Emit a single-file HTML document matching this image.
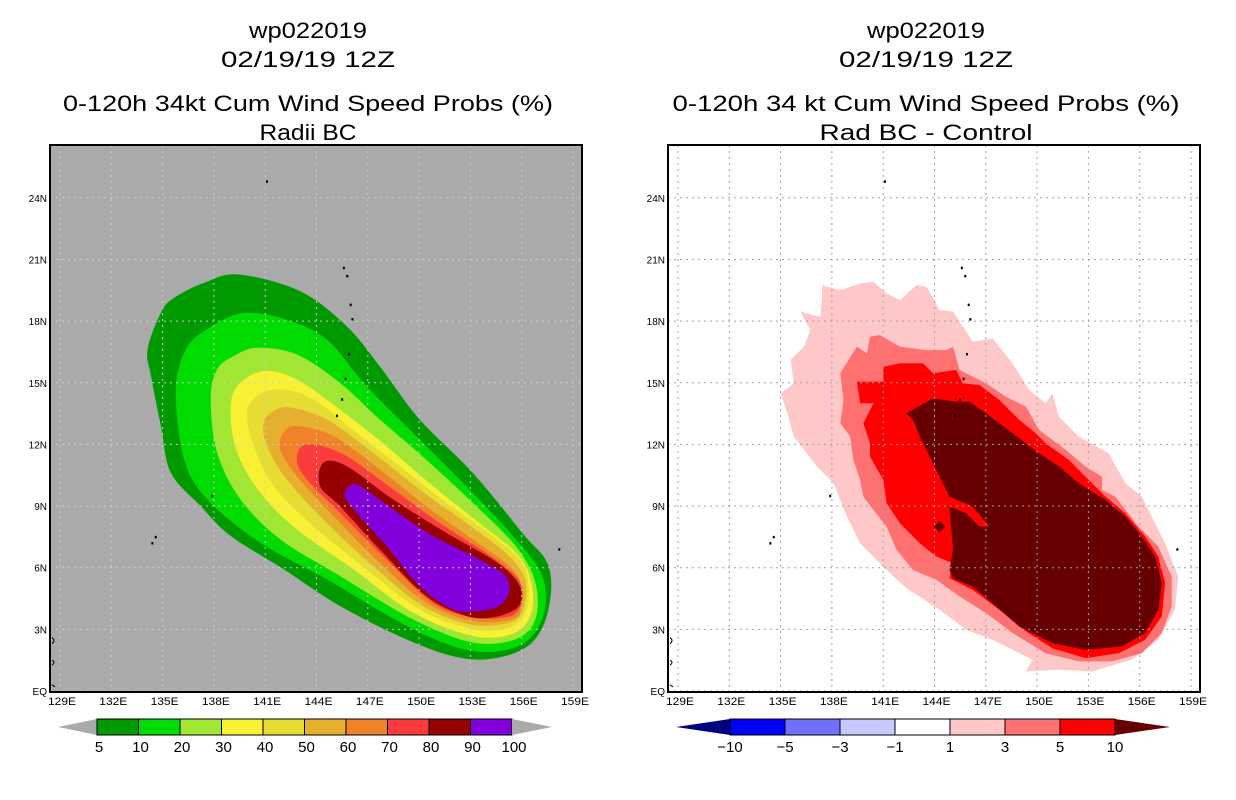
<!DOCTYPE html>
<html><head><meta charset="utf-8"><style>
body{margin:0;background:#fff;}
svg{display:block;font-family:"Liberation Sans",sans-serif;}
</style></head><body>
<svg id="c" width="1236" height="800" viewBox="0 0 1236 800"></svg>
<script>
const lonTicks=[129,132,135,138,141,144,147,150,153,156,159];
const latTicks=[0,3,6,9,12,15,18,21,24];
const latLabels=["EQ","3N","6N","9N","12N","15N","18N","21N","24N"];
const leftLevels=["5","10","20","30","40","50","60","70","80","90","100"];
const leftColors=["#009900","#00dc00","#a0e632","#f8f032","#e6dc32","#e6af2d","#f08228","#fa3c3c","#960000","#8200dc"];
const rightLevels=["-10","-5","-3","-1","1","3","5","10"];
const rightColors=["#0000ff","#7070ff","#c8c8ff","#ffffff","#ffc8c8","#ff7070","#ff0000"];
// left contours (lon,lat pairs)
const c5=[[139.45,20.27],[143.04,19.46],[145.75,17.76],[147.69,15.81],[150.02,13.22],[153.12,10.63],[156.02,7.71],[157.57,6.09],[157.57,3.98],[156.6,2.36],[154.67,1.63],[152.34,1.63],[149.24,2.52],[145.36,4.14],[142.07,5.93],[138.97,7.55],[137.22,9.0],[135.48,10.63],[134.9,12.89],[134.32,15.33],[134.12,16.62],[134.9,18.41],[135.67,19.13],[137.42,19.86]];
const c10=[[140.13,18.41],[144.2,17.35],[146.91,14.84],[150.02,12.25],[153.12,9.65],[155.83,7.22],[157.28,5.44],[157.19,3.49],[155.83,2.2],[153.12,1.95],[149.63,3.01],[144.59,5.44],[140.71,7.22],[137.61,9.33],[136.26,11.27],[135.77,14.52],[136.26,16.46],[137.42,17.51]];
const c20=[[140.52,16.7],[142.84,16.38],[145.36,15.0],[147.69,13.22],[150.4,11.27],[153.12,9.17],[155.64,7.06],[156.8,5.28],[156.8,3.49],[155.64,2.52],[153.12,2.36],[149.63,3.49],[145.36,5.6],[141.88,7.38],[139.55,9.33],[138.19,11.6],[137.81,14.19],[138.19,15.65],[139.16,16.3]];
const c30=[[140.91,15.57],[142.84,15.16],[145.36,13.71],[148.08,11.92],[150.79,9.98],[153.5,8.19],[155.83,6.57],[156.6,5.12],[156.51,3.66],[155.44,2.77],[153.12,2.68],[149.63,3.82],[146.14,5.93],[142.84,7.87],[140.71,9.65],[139.36,11.6],[138.97,13.54],[139.36,14.84]];
const c40=[[141.88,14.68],[143.81,14.19],[146.33,12.57],[148.85,10.95],[151.57,9.17],[154.28,7.55],[156.02,6.25],[156.41,4.95],[156.22,3.82],[155.25,3.09],[153.12,3.01],[150.02,3.98],[146.91,5.93],[143.81,8.03],[141.49,9.98],[140.33,11.92],[139.94,13.54],[140.52,14.35]];
const c50=[[142.46,13.79],[144.59,13.22],[147.3,11.6],[150.02,9.82],[152.73,8.19],[155.05,6.74],[156.12,5.6],[156.22,4.47],[155.83,3.58],[154.86,3.25],[152.92,3.25],[150.21,4.14],[147.3,6.09],[144.59,8.19],[142.26,10.3],[141.1,11.92],[140.91,13.06],[141.49,13.62]];
const c60=[[142.84,12.89],[144.98,12.41],[147.69,10.79],[150.4,9.0],[153.12,7.38],[155.25,6.09],[156.02,5.12],[156.02,4.14],[155.44,3.49],[153.12,3.41],[150.4,4.3],[147.69,6.25],[144.98,8.52],[142.84,10.46],[141.88,11.76],[142.07,12.57]];
const c70=[[143.43,12.0],[145.56,11.52],[148.47,9.82],[151.18,8.19],[153.89,6.74],[155.64,5.6],[156.02,4.79],[155.83,3.98],[155.05,3.58],[153.12,3.58],[150.79,4.3],[148.08,6.41],[145.36,8.68],[143.43,10.3],[142.84,11.27]];
const c80=[[144.4,11.11],[145.75,10.95],[148.47,9.33],[151.57,7.71],[154.28,6.41],[155.64,5.44],[156.02,4.63],[155.64,3.98],[154.28,3.58],[152.73,3.66],[150.4,4.63],[147.69,6.9],[145.36,9.0],[144.2,9.98]];
const c90=[[145.95,9.98],[146.53,9.98],[148.47,8.84],[150.79,7.55],[153.5,6.41],[155.05,5.6],[155.25,4.79],[154.67,4.14],[153.5,3.9],[151.95,3.98],[150.02,5.12],[148.08,7.06],[146.33,8.68],[145.66,9.49]];
// right contours
const d1=[[137.42,19.75],[138.49,19.51],[139.65,19.83],[140.43,19.91],[141.2,19.35],[141.98,19.02],[142.95,19.75],[143.53,19.67],[144.3,18.54],[145.08,18.46],[146.24,17.0],[147.4,17.16],[148.57,15.94],[149.53,14.65],[150.5,14.0],[150.89,14.48],[151.28,13.35],[152.44,12.38],[154.19,11.57],[155.16,10.11],[156.12,9.46],[157.48,7.19],[158.26,5.57],[158.06,3.95],[157.09,2.49],[155.54,1.52],[153.22,0.95],[151.28,1.03],[149.34,0.95],[149.73,1.52],[147.4,2.49],[145.85,2.98],[144.3,3.95],[142.36,5.0],[141.2,5.89],[139.65,7.19],[138.88,8.49],[138.1,10.11],[137.13,10.92],[135.78,12.38],[135.39,13.51],[135.0,14.48],[135.78,14.97],[135.58,16.11],[136.36,16.75],[136.74,17.56],[136.16,18.46],[137.33,18.21],[137.42,19.18]];
const d3=[[138.49,15.46],[139.46,16.75],[140.04,16.43],[140.23,17.24],[140.81,17.32],[141.98,16.75],[143.53,16.59],[144.69,16.59],[145.08,16.75],[145.47,15.62],[147.02,14.97],[148.18,14.32],[149.34,13.84],[150.12,12.7],[151.67,11.73],[152.83,10.92],[153.8,10.43],[153.8,9.78],[154.57,9.46],[155.93,8.0],[157.09,7.03],[157.87,5.57],[157.87,4.11],[157.29,2.82],[156.12,1.84],[154.38,1.44],[152.44,1.44],[150.5,1.84],[148.57,2.82],[147.02,3.79],[145.47,4.6],[144.11,5.41],[142.75,5.89],[141.78,6.87],[141.2,8.0],[140.43,8.81],[139.84,9.46],[139.65,10.27],[139.26,11.24],[139.07,12.38],[138.49,13.03],[138.68,14.16]];
const d5=[[139.46,15.05],[141.01,15.05],[141.01,15.78],[141.98,15.94],[143.33,15.94],[143.91,15.46],[145.27,15.62],[145.66,14.97],[146.63,14.89],[147.79,14.16],[148.95,13.19],[149.92,12.54],[150.5,12.05],[151.86,11.24],[152.83,10.43],[154.0,9.46],[155.16,8.65],[156.32,7.52],[157.09,6.54],[157.48,5.25],[157.29,3.63],[156.32,2.49],[154.77,1.84],[152.83,1.6],[150.89,2.09],[149.34,2.9],[147.79,3.95],[146.24,4.92],[144.88,5.49],[145.08,6.22],[144.11,6.54],[143.14,7.19],[141.98,8.16],[141.2,9.14],[141.01,10.27],[140.23,11.41],[140.23,12.05],[139.84,13.03],[140.43,14.0],[139.65,14.0]];
const d10=[[142.36,13.51],[143.91,14.24],[145.27,14.08],[146.05,14.08],[147.02,13.51],[148.57,12.54],[150.12,11.57],[151.28,10.92],[152.44,10.11],[153.99,9.3],[155.16,8.49],[156.12,7.52],[156.9,6.54],[157.29,5.25],[157.09,3.95],[156.32,2.82],[154.96,2.17],[152.83,2.0],[150.89,2.33],[148.95,3.14],[147.4,4.27],[146.24,5.08],[145.08,5.49],[144.88,5.89],[145.08,6.87],[144.88,8.97],[145.85,8.65],[146.63,8.0],[147.21,8.0],[146.24,8.97],[144.88,9.46],[143.91,11.08],[143.14,12.38],[142.75,13.19]];
const islands=[[141.1,24.8],[145.6,20.6],[145.8,20.2],[146.0,18.8],[146.1,18.1],[145.9,16.4],[145.7,15.2],[145.5,14.2],[145.2,13.4],[137.9,9.5],[134.6,7.5],[134.4,7.2],[158.2,6.9]];

const NS="http://www.w3.org/2000/svg";
const svg=document.getElementById('c');
const PX0=50,PW=532,PY0=145,PH=547,OFF=[0,618];
function X(lon,p){return 60+(lon-129)*17.1+OFF[p];}
function Y(lat){return 691-lat*20.55;}
function mk(tag,attrs,parent){const e=document.createElementNS(NS,tag);for(const k in attrs)e.setAttribute(k,attrs[k]);(parent||svg).appendChild(e);return e;}
function smoothPath(pts,p){
  const P=pts.map(q=>[X(q[0],p),Y(q[1])]);const n=P.length;let d=`M${P[0][0].toFixed(1)},${P[0][1].toFixed(1)}`;
  for(let i=0;i<n;i++){const p0=P[(i-1+n)%n],p1=P[i],p2=P[(i+1)%n],p3=P[(i+2)%n];
    const c1=[p1[0]+(p2[0]-p0[0])/6,p1[1]+(p2[1]-p0[1])/6],c2=[p2[0]-(p3[0]-p1[0])/6,p2[1]-(p3[1]-p1[1])/6];
    d+=`C${c1[0].toFixed(1)},${c1[1].toFixed(1)} ${c2[0].toFixed(1)},${c2[1].toFixed(1)} ${p2[0].toFixed(1)},${p2[1].toFixed(1)}`;}
  return d+'Z';}
function polyPath(pts,p){return 'M'+pts.map(q=>X(q[0],p).toFixed(1)+','+Y(q[1]).toFixed(1)).join('L')+'Z';}
function txt(x,y,s,size,anchor,name,len){const a={x:x,y:y,'font-size':size,'text-anchor':anchor||'middle',fill:'#000'};
  if(len){a.textLength=len;a.lengthAdjust='spacingAndGlyphs';}
  const t=mk('text',a);t.textContent=s;
  
  
  return t;}

// titles
const titles=[["wp022019","02/19/19 12Z","0-120h 34kt Cum Wind Speed Probs (%)","Radii BC"],["wp022019","02/19/19 12Z","0-120h 34 kt Cum Wind Speed Probs (%)","Rad BC - Control"]];
const titleLens=[[118,174,490,97],[118,174,507,213]];
[0,1].forEach(p=>{const cx=PX0+OFF[p]+PW/2-8;const T=titles[p],L=titleLens[p];
  txt(cx,38,T[0],22,'middle','title-storm-id',L[0]);txt(cx,67,T[1],22,'middle','title-date',L[1]);
  txt(cx,111,T[2],22,'middle','title-product',L[2]);txt(cx,140,T[3],22,'middle','title-subtitle',L[3]);});

[0,1].forEach(p=>{
  const g=mk('g',{});
  
  
  const cp=mk('clipPath',{id:'cl'+p},g);mk('rect',{x:PX0+OFF[p],y:PY0,width:PW,height:PH},cp);
  const bg=mk('rect',{x:PX0+OFF[p],y:PY0,width:PW,height:PH,fill:p?'#ffffff':'#aaaaaa'},g);
  
  
  const inner=mk('g',{'clip-path':`url(#cl${p})`},g);
  const sets=p?[[d1,rightColors[4]],[d3,rightColors[5]],[d5,rightColors[6]],[d10,'#660000']]:[[c5,leftColors[0]],[c10,leftColors[1]],[c20,leftColors[2]],[c30,leftColors[3]],[c40,leftColors[4]],[c50,leftColors[5]],[c60,leftColors[6]],[c70,leftColors[7]],[c80,leftColors[8]],[c90,leftColors[9]]];
  sets.forEach((s,i)=>{const e=mk('path',{d:p?polyPath(s[0],p):smoothPath(s[0],p),fill:s[1]},inner);
    
    });
  if(p){const b=mk('rect',{x:X(144.3,p)-4,y:Y(8.0)-4,width:8,height:8,fill:'#660000',transform:`rotate(45 ${X(144.3,p)} ${Y(8.0)})`},inner);
    
    }
  lonTicks.forEach(l=>{const e=mk('line',{x1:X(l,p),x2:X(l,p),y1:PY0,y2:PY0+PH,stroke:p?'#a0a0a0':'#cccccc','stroke-dasharray':'2,4','stroke-width':1},inner);
    
    });
  latTicks.forEach(l=>{const e=mk('line',{x1:PX0+OFF[p],x2:PX0+OFF[p]+PW,y1:Y(l),y2:Y(l),stroke:p?'#a0a0a0':'#cccccc','stroke-dasharray':'2,4','stroke-width':1},inner);
    
    });
  islands.forEach(q=>{const e=mk('rect',{x:X(q[0],p)-1,y:Y(q[1])-1,width:2,height:2.5,fill:'#000'},inner);
    
    });
  const coast=mk('path',{d:`M${PX0+OFF[p]+2},${Y(2.6)} q4,3 0,6 M${PX0+OFF[p]+2},${Y(1.5)} q4,2 0,5 M${PX0+OFF[p]+2},${Y(0.3)} l3,2`,stroke:'#000',fill:'none','stroke-width':1},inner);
  
  
  const fr=mk('rect',{x:PX0+OFF[p],y:PY0,width:PW,height:PH,fill:'none',stroke:'#000','stroke-width':2},g);
  
  
  lonTicks.forEach(l=>txt(X(l,p)+2,705,l+'E',11,'middle','lon-tick-label',(l+'E').length*7));
  latTicks.forEach((l,i)=>txt(PX0+OFF[p]-3,Y(l)+4,latLabels[i],10,'end','lat-tick-label'));
});

// left colorbar
(function(){const x0=97,w=41.5,y=719,h=16;
  const tl=mk('path',{d:`M58,${y+h/2} L${x0},${y} L${x0},${y+h}Z`,fill:'#aaaaaa'});
  
  
  leftColors.forEach((c,i)=>{const r=mk('rect',{x:x0+i*w,y:y,width:w,height:h,fill:c,stroke:'#000','stroke-width':1});
    
    });
  const tr=mk('path',{d:`M${x0+10*w},${y} L552,${y+h/2} L${x0+10*w},${y+h}Z`,fill:'#aaaaaa'});
  
  
  leftLevels.forEach((s,i)=>txt(x0+i*w+2,752,s,15,'middle','colorbar-label'));
})();
// right colorbar
(function(){const x0=730,w=55,y=719,h=16;
  const tl=mk('path',{d:`M676,${y+h/2} L${x0},${y} L${x0},${y+h}Z`,fill:'#000080'});
  
  
  rightColors.forEach((c,i)=>{const r=mk('rect',{x:x0+i*w,y:y,width:w,height:h,fill:c,stroke:'#000','stroke-width':1});
    
    });
  const tr=mk('path',{d:`M${x0+7*w},${y} L1170,${y+h/2} L${x0+7*w},${y+h}Z`,fill:'#660000'});
  
  
  rightLevels.forEach((s,i)=>txt(x0+i*w,752,s.replace('-','\u2212'),15,'middle','colorbar-label'));
})();
</script>
</body></html>
